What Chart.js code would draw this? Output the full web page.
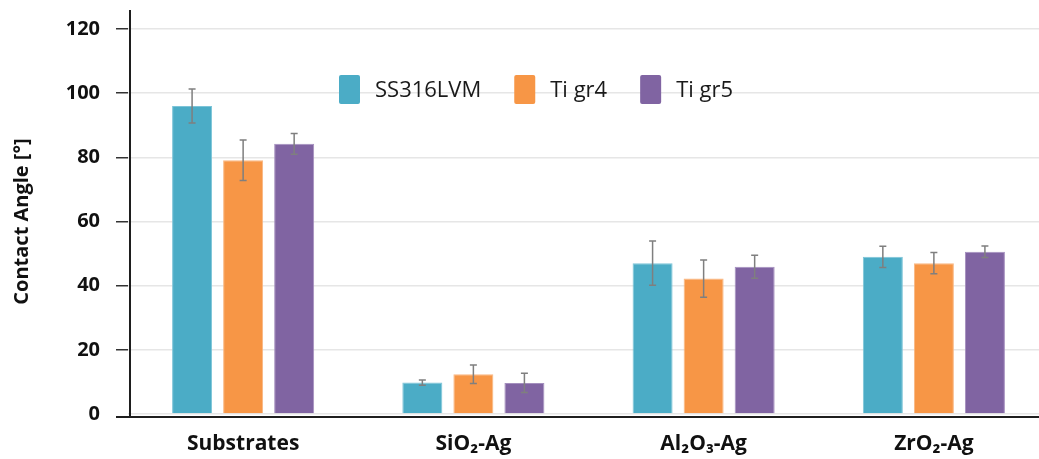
<!DOCTYPE html>
<html>
<head>
<meta charset="utf-8">
<script src="https://cdn.jsdelivr.net/npm/chart.js@4.4.1/dist/chart.umd.min.js"></script>
<style>
html, body { margin: 0; padding: 0; background: #fff; overflow: hidden; }
#wrap { width: 1039px; height: 459px; overflow: hidden; }
</style>
</head>
<body>
<div id="wrap"><canvas id="grafico" width="1049" height="459"></canvas></div>
<script>
var categorias = ["Substrates", "SiO₂-Ag", "Al₂O₃-Ag", "ZrO₂-Ag"];
var ss316 = [96.0, 9.8, 47.0, 49.0];
var tiGr4 = [79.1, 12.4, 42.2, 47.0];
var tiGr5 = [84.2, 9.7, 45.9, 50.6];
var errSs316 = [5.3, 0.8, 6.9, 3.3];
var errTiGr4 = [6.3, 2.9, 5.8, 3.3];
var errTiGr5 = [3.2, 3.0, 3.6, 1.8];
var yTicks = [0, 20, 40, 60, 80, 100, 120];

var fuente = "'Open Sans', 'Noto Sans', sans-serif";

// error bars
var barrasError = {
    id: 'barrasError',
    afterDatasetsDraw: function (chart) {
        var ctx = chart.ctx, y = chart.scales.y;
        ctx.save();
        ctx.strokeStyle = '#7f7f7f';
        ctx.lineWidth = 1.5;
        chart.data.datasets.forEach(function (ds, i) {
            chart.getDatasetMeta(i).data.forEach(function (bar, j) {
                var v = ds.data[j], e = ds.errores[j];
                var top = y.getPixelForValue(v + e), bot = y.getPixelForValue(v - e);
                ctx.beginPath();
                ctx.moveTo(bar.x, top); ctx.lineTo(bar.x, bot);
                ctx.moveTo(bar.x - 3.5, top); ctx.lineTo(bar.x + 3.5, top);
                ctx.moveTo(bar.x - 3.5, bot); ctx.lineTo(bar.x + 3.5, bot);
                ctx.stroke();
            });
        });
        ctx.restore();
    }
};

// axis lines like the original (y line runs above 120, x line a bit under 0)
var ejes = {
    id: 'ejes',
    afterDatasetsDraw: function (chart) {
        var ctx = chart.ctx, a = chart.chartArea;
        var x0 = a.left + 2;
        ctx.save();
        ctx.strokeStyle = '#1e1e1e';
        ctx.lineWidth = 2;
        ctx.beginPath();
        ctx.moveTo(x0, a.top - 19);
        ctx.lineTo(x0, a.bottom + 3);
        ctx.moveTo(a.left - 12, a.bottom + 3);
        ctx.lineTo(chart.width, a.bottom + 3);
        ctx.stroke();
        ctx.restore();
    }
};

// legend inside the plot
var leyenda = {
    id: 'leyenda',
    afterDraw: function (chart) {
        var ctx = chart.ctx;
        var x = 339, y = 75;
        ctx.save();
        ctx.font = "22px " + fuente;
        ctx.textBaseline = 'middle';
        chart.data.datasets.forEach(function (ds) {
            ctx.fillStyle = ds.backgroundColor;
            ctx.beginPath();
            ctx.roundRect(x, y, 21, 29, 2);
            ctx.fill();
            ctx.fillStyle = '#1a1a1a';
            ctx.fillText(ds.label, x + 36, y + 16);
            x += 36 + ctx.measureText(ds.label).width + 33;
        });
        ctx.restore();
    }
};

new Chart(document.getElementById("grafico"), {
    type: 'bar',
    data: {
        labels: categorias,
        datasets: [
            { label: "SS316LVM", data: ss316, errores: errSs316, backgroundColor: "#4bacc6", borderColor: "#7cc4d8" },
            { label: "Ti gr4", data: tiGr4, errores: errTiGr4, backgroundColor: "#f79646", borderColor: "#f9b681" },
            { label: "Ti gr5", data: tiGr5, errores: errTiGr5, backgroundColor: "#8064a2", borderColor: "#a48fbe" }
        ]
    },
    options: {
        responsive: false,
        animation: false,
        devicePixelRatio: 1,
        layout: { padding: { top: 29, left: 0, right: 0, bottom: 0 } },
        datasets: {
            bar: { borderWidth: 1, categoryPercentage: 0.665, barPercentage: 0.784 }
        },
        plugins: {
            legend: { display: false },
            tooltip: { enabled: false }
        },
        scales: {
            x: {
                grid: { display: false, drawTicks: false },
                border: { display: false },
                ticks: {
                    color: '#111',
                    padding: 17,
                    maxRotation: 0,
                    font: { family: fuente, size: 21, weight: 'bold' }
                },
                afterFit: function (scale) { scale.height = 45; }
            },
            y: {
                min: 0,
                max: 120,
                afterBuildTicks: function (scale) {
                    scale.ticks = yTicks.map(function (v) { return { value: v }; });
                },
                grid: {
                    color: '#e6e6e6',
                    lineWidth: 1.5,
                    tickLength: 12,
                    tickColor: function (c) { return c.tick && c.tick.value === 0 ? 'rgba(0,0,0,0)' : '#333'; }
                },
                border: { display: false },
                ticks: {
                    color: '#111',
                    padding: 16,
                    font: { family: fuente, size: 20, weight: 'bold' }
                },
                title: {
                    display: true,
                    text: 'Contact Angle [°]',
                    color: '#111',
                    padding: { top: 10, bottom: 0 },
                    font: { family: fuente, size: 20, weight: 'bold' }
                },
                afterFit: function (scale) { scale.width = 128; }
            }
        }
    },
    plugins: [barrasError, ejes, leyenda]
});
</script>
</body>
</html>
